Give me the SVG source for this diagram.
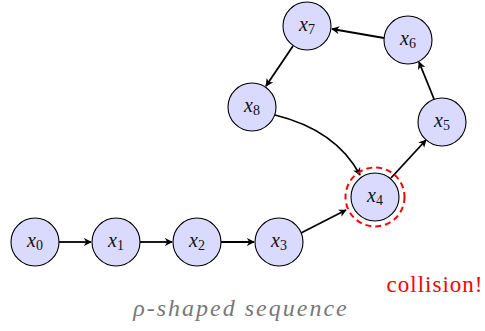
<svg xmlns="http://www.w3.org/2000/svg" width="485" height="331" viewBox="0 0 485 331">
<defs>
<style>
.n{fill:#dadaff;stroke:#000;stroke-width:1.1}
.t{font-family:"Liberation Serif",serif;font-style:italic;font-size:20px;fill:#111;text-anchor:middle}
.s{font-size:14px;font-style:normal}
.e{fill:none;stroke:#000;stroke-width:1.8;marker-end:url(#ah)}
</style>
<marker id="ah" viewBox="0 0 10 10" refX="9" refY="5" markerWidth="8" markerHeight="8" markerUnits="userSpaceOnUse" orient="auto">
<path d="M0,0 L10,5 L0,10 L3,5 Z" fill="#000"/>
</marker>
</defs>
<g id="edges">
<path class="e" d="M59,242 L91,242"/>
<path class="e" d="M140,242 L172,242"/>
<path class="e" d="M221,242 L254,242"/>
<path class="e" d="M301,233 L346,210"/>
<path class="e" d="M391,178 L426,140"/>
<path class="e" d="M434,99 L419,62"/>
<path class="e" d="M384,38 L332,29"/>
<path class="e" d="M293,46 L266,86"/>
<path class="e" d="M275,115 Q336,130 360,175"/>
</g>
<circle cx="375" cy="197" r="29.5" fill="none" stroke="#f00" stroke-width="2" stroke-dasharray="6,4"/>
<g id="x0"><circle class="n" cx="35" cy="242" r="24"/><text class="t" x="35" y="247">x<tspan class="s" dy="3">0</tspan></text></g>
<g id="x1"><circle class="n" cx="116" cy="242" r="24"/><text class="t" x="116" y="247">x<tspan class="s" dy="3">1</tspan></text></g>
<g id="x2"><circle class="n" cx="197" cy="242" r="24"/><text class="t" x="197" y="247">x<tspan class="s" dy="3">2</tspan></text></g>
<g id="x3"><circle class="n" cx="279" cy="242" r="24"/><text class="t" x="279" y="247">x<tspan class="s" dy="3">3</tspan></text></g>
<g id="x4"><circle class="n" cx="375" cy="197" r="24"/><text class="t" x="375" y="202">x<tspan class="s" dy="3">4</tspan></text></g>
<g id="x5"><circle class="n" cx="442" cy="122" r="24"/><text class="t" x="442" y="127">x<tspan class="s" dy="3">5</tspan></text></g>
<g id="x6"><circle class="n" cx="408" cy="40" r="24"/><text class="t" x="408" y="45">x<tspan class="s" dy="3">6</tspan></text></g>
<g id="x7"><circle class="n" cx="307" cy="26" r="24"/><text class="t" x="307" y="31">x<tspan class="s" dy="3">7</tspan></text></g>
<g id="x8"><circle class="n" cx="252" cy="107" r="24"/><text class="t" x="252" y="112">x<tspan class="s" dy="3">8</tspan></text></g>
<text x="435" y="292" font-family="Liberation Serif,serif" font-size="23" letter-spacing="1" fill="#f00" text-anchor="middle">collision!</text>
<text x="241" y="316" font-family="Liberation Serif,serif" font-style="italic" font-size="24" letter-spacing="2" fill="#777" text-anchor="middle">ρ-shaped sequence</text>
</svg>
